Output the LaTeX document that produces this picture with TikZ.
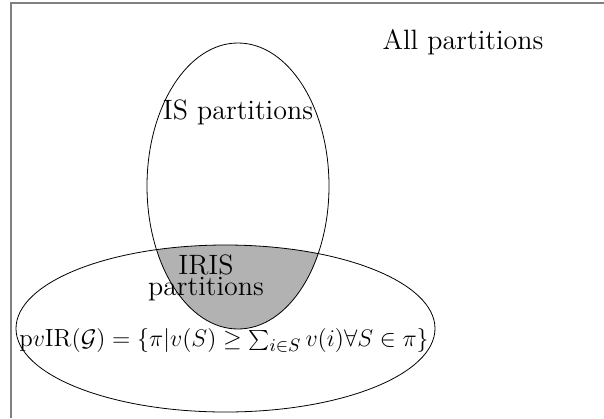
\documentclass[tikz,border=0pt]{standalone}
\usetikzlibrary{positioning}
\tikzset{
  mnozina/.style={draw=black,thin},
  prunik/.style={fill=gray!60},
  ramec/.style={draw=gray,line width=1pt},
  popis/.style={inner sep=0pt,font=\fontsize{14}{9}\selectfont,align=center},
  vzorec/.style={inner sep=0pt,font=\fontsize{12.4}{14}\selectfont},
}
\begin{document}
\begin{tikzpicture}[x=0.5pt,y=-0.5pt]
  \useasboundingbox (0,0) rectangle (604,418);
  \coordinate (is) at (238,186);
  \coordinate (ir) at (225.5,328.5);
  \coordinate (lb) at (11,418);
  \coordinate (lt) at (11,3);
  \coordinate (rt) at (604,3);
  \draw[ramec] (lb) -- (lt) -- (rt);
  \begin{scope}
    \clip (is) ellipse [x radius=91,y radius=143];
    \fill[prunik] (ir) ellipse [x radius=209.5,y radius=83.5];
  \end{scope}
  \draw[mnozina] (is) ellipse [x radius=91,y radius=143];
  \draw[mnozina] (ir) ellipse [x radius=209.5,y radius=83.5];
  \node[popis] (all) at (463,42) {All partitions};
  \node[popis] (isp) at (238,112) {IS partitions};
  \node[popis] (iris) at (206,278) {IRIS\\partitions};
  \node[vzorec] (pvir) at (224,340) {p$v$IR$(\mathcal{G}) = \{\pi | v(S) \geq \sum_{i\in S} v(i) \forall S \in \pi\}$};
\end{tikzpicture}
\end{document}
